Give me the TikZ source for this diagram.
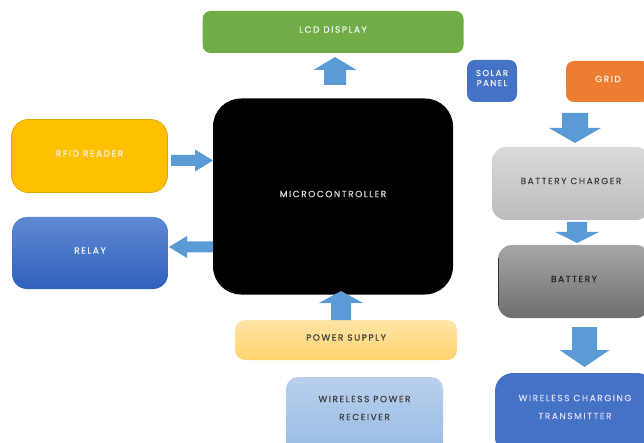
\documentclass[tikz,border=0pt]{standalone}
\usepackage{fontspec}
\setmainfont[LetterSpace=17, FakeBold=0.6]{Poppins}
\definecolor{arrowc}{HTML}{5B9BD5}
\definecolor{lcdg}{HTML}{70AD47}
\definecolor{rfidy}{HTML}{FFC000}
\definecolor{rfidb}{HTML}{E0A800}
\definecolor{blueA}{HTML}{4472C4}
\definecolor{relayT}{HTML}{6089D3}
\definecolor{relayB}{HTML}{3060BE}
\definecolor{psT}{HTML}{FFE4A6}
\definecolor{psB}{HTML}{FFD46E}
\definecolor{wprT}{HTML}{B9D0EC}
\definecolor{wprB}{HTML}{96BAE4}
\definecolor{gridO}{HTML}{ED7D31}
\definecolor{chT}{HTML}{DADADA}
\definecolor{chB}{HTML}{BCBCBC}
\definecolor{baT}{HTML}{A6A6A6}
\definecolor{baB}{HTML}{6E6E6E}
\definecolor{darktxt}{HTML}{404040}
\newcommand\varr[6]{% cx, ytail, ybase, ytip, shaft half, head half
  \fill[arrowc] (#1-#5,#2) -- (#1-#5,#3) -- (#1-#6,#3) -- (#1,#4) -- (#1+#6,#3) -- (#1+#5,#3) -- (#1+#5,#2) -- cycle;}
\newcommand\harr[6]{% cy, xtail, xbase, xtip, shaft half, head half
  \fill[arrowc] (#2,#1-#5) -- (#3,#1-#5) -- (#3,#1-#6) -- (#4,#1) -- (#3,#1+#6) -- (#3,#1+#5) -- (#2,#1+#5) -- cycle;}
\begin{document}
\begin{tikzpicture}[x=1pt,y=-1pt,
  box/.style={inner sep=0pt, align=center, text depth=5pt, font=\fontsize{9}{18}\selectfont},
  lighttxt/.style={text=white!95!black},
  dtxt/.style={text=darktxt}]
\clip (0,0) rectangle (644,443);
% left / center
\node[box, lighttxt, fill=lcdg, rounded corners=8pt, minimum width=261pt, minimum height=42pt] (lcd) at (333,32) {LCD DISPLAY};
\node[box, text=white!85!black, fill=black, rounded corners=28pt, minimum width=240pt, minimum height=196pt] (mcu) at (333,196.5) {MICROCONTROLLER};
\node[box, lighttxt, fill=rfidy, draw=rfidb, line width=0.8pt, rounded corners=17pt, minimum width=156pt, minimum height=73pt] (rfid) at (89.5,156) {RFID READER};
\node[box, lighttxt, top color=relayT, bottom color=relayB, rounded corners=15pt, minimum width=156pt, minimum height=72pt] (relay) at (90,253) {RELAY};
\node[box, dtxt, top color=psT, bottom color=psB, rounded corners=10pt, minimum width=222pt, minimum height=40pt] (ps) at (346,340) {POWER SUPPLY};
\node[box, dtxt, top color=wprT, bottom color=wprB, rounded corners=12pt, minimum width=157pt, minimum height=80pt, text depth=18pt] (wpr) at (364.5,417) {WIRELESS POWER\\RECEIVER};
% right column
\node[box, lighttxt, fill=blueA, rounded corners=8pt, minimum width=50pt, minimum height=42pt, text depth=6pt, font=\fontsize{8.5}{10}\selectfont] (solar) at (492,81) {SOLAR\\PANEL};
\node[box, lighttxt, fill=gridO, rounded corners=8pt, minimum width=84pt, minimum height=41pt] (grid) at (608,81.5) {GRID};
\node[box, dtxt, top color=chT, bottom color=chB, rounded corners=14pt, minimum width=158pt, minimum height=73pt] (charger) at (571,183.5) {BATTERY CHARGER};
\node[box, text=black!85, top color=baT, bottom color=baB, rounded corners=14pt, minimum width=152pt, minimum height=73pt] (battery) at (574,281.5) {BATTERY};
\draw[black!80, line width=0.8pt] (498.4,258) -- (498.4,305);
\node[box, text=white!85!blue, fill=blueA, rounded corners=18pt, minimum width=160pt, minimum height=82pt, text depth=14pt] (tx) at (575,414) {WIRELESS CHARGING\\TRANSMITTER};
% block arrows
\varr{335}{85}{70}{57}{11}{21.5}
\varr{341}{320}{303}{291}{10}{22}
\harr{160.5}{171}{195}{213}{5.5}{11}
\harr{247}{213}{187}{169}{5.5}{11}
\varr{575}{113}{128}{143}{13}{26}
\varr{577}{222}{232}{243}{10}{22}
\varr{584.5}{327}{350}{367}{12.5}{25}
\end{tikzpicture}
\end{document}
